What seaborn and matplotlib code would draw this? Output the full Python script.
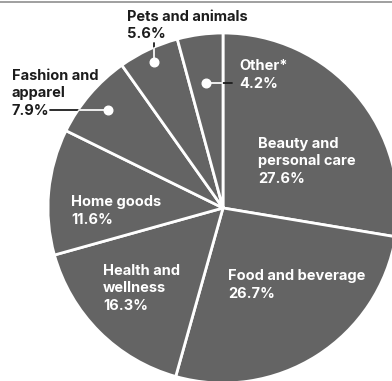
import numpy as np
import matplotlib
matplotlib.use("Agg")
import matplotlib.pyplot as plt
import seaborn as sns

# Share of sales by category (percent), clockwise from 12 o'clock
categories = ["Beauty and\npersonal care", "Food and beverage", "Health and\nwellness",
              "Home goods", "Fashion and\napparel", "Pets and animals", "Other*"]
shares = [27.6, 26.7, 16.3, 11.6, 7.9, 5.6, 4.2]
value_labels = ["27.6%", "26.7%", "16.3%", "11.6%", "7.9%", "5.6%", "4.2%"]

sns.set_theme(style="white")
plt.rcParams["font.family"] = ["Inter", "DejaVu Sans"]

W, H = 392, 381
fig = plt.figure(figsize=(W / 100, H / 100), dpi=100)
ax = fig.add_axes([0, 0, 1, 1])

def py(y):
    """Convert a top-down pixel row to axis y."""
    return H - y

cx, cy, R = 223, py(208), 175
slice_color = "#646464"
text_dark = "#1c1c1c"

wedges, _ = ax.pie(shares, startangle=90, counterclock=False, center=(cx, cy), radius=R,
                   colors=[slice_color] * len(shares),
                   wedgeprops=dict(edgecolor="white", linewidth=2.0),
                   frame=True)
ax.set_xlim(0, W)
ax.set_ylim(0, H)
ax.set_aspect("equal")
ax.axis("off")

# thin rule along the top edge
ax.plot([0, W], [py(1.5), py(1.5)], color="#8f8f8f", lw=1.2, solid_capstyle="butt")

fs = 10.5
lead = 17.5

def label(x, y_base, lines, color):
    for i, ln in enumerate(lines):
        ax.text(x, py(y_base + i * lead), ln, fontsize=fs, fontweight="bold",
                color=color, ha="left", va="baseline")

# (label x, first baseline, colour) for each slice
placements = {
    0: (258, 148, "white"),
    1: (228, 280, "white"),
    2: (103, 275, "white"),
    3: (71, 206, "white"),
    4: (12, 80, text_dark),
    5: (127, 21, text_dark),
    6: (239, 70, "white"),
}
for i, (x, yb, col) in placements.items():
    label(x, yb, categories[i].split("\n") + [value_labels[i]], col)

def mid_point(i, frac):
    w = wedges[i]
    ang = np.deg2rad((w.theta1 + w.theta2) / 2)
    return cx + frac * R * np.cos(ang), cy + frac * R * np.sin(ang)

def leader(i, frac, end):
    dx, dy = mid_point(i, frac)
    ex, ey = end(dx, dy)
    ax.plot([ex, dx], [ey, dy], color=text_dark, lw=1.3, zorder=3)
    light, = ax.plot([ex, dx], [ey, dy], color="white", lw=1.3, zorder=4)
    light.set_clip_path(wedges[i])
    ax.plot(dx, dy, "o", ms=6.2, color="white", mec="white", zorder=5)

# Fashion: horizontal leader to the left label
leader(4, 0.86, lambda dx, dy: (50, dy))
# Pets: vertical leader up to the label
leader(5, 0.925, lambda dx, dy: (dx, py(43)))
# Other: short horizontal leader to the right
leader(6, 0.72, lambda dx, dy: (232, dy))

fig.savefig("out.png", dpi=100)
